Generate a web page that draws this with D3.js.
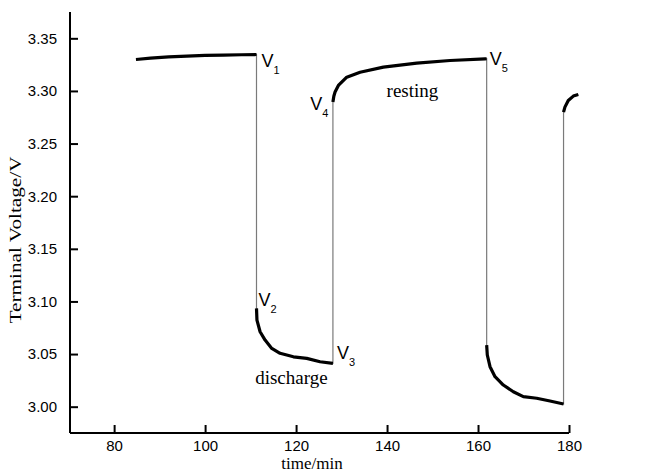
<!DOCTYPE html>
<html><head><meta charset="utf-8">
<script src="https://cdn.jsdelivr.net/npm/d3@7"></script>
<style>html,body{margin:0;padding:0;background:#fff;}svg{display:block;}</style>
</head><body>
<svg id="c" width="650" height="473"></svg>
<script>
// ---- data (time in min, terminal voltage in V) ----
const restTime1 = [84.8, 88, 92, 96, 100, 104, 108, 111.3];
const restVolt1 = [3.3299, 3.3312, 3.3323, 3.3331, 3.3337, 3.3341, 3.3344, 3.3346];
const disTime1 = [111.3, 111.4, 112.09, 113.19, 114.66, 116.48, 119.41, 122.35, 125.27, 128.1];
const disVolt1 = [3.0934, 3.0823, 3.0712, 3.0633, 3.0554, 3.0507, 3.0474, 3.0459, 3.0427, 3.0412];
const restTime2 = [128.1, 128.3, 128.57, 129.3, 131.14, 134.07, 139.19, 146.53, 153.85, 161.54, 161.9];
const restVolt2 = [3.2894, 3.2950, 3.2990, 3.3052, 3.3131, 3.3178, 3.3226, 3.3264, 3.3289, 3.3305, 3.3306];
const disTime2 = [161.9, 162.04, 162.64, 163.74, 165.56, 167.76, 169.96, 172.9, 175.82, 178.8];
const disVolt2 = [3.0585, 3.0491, 3.0380, 3.0285, 3.0206, 3.0142, 3.0095, 3.0080, 3.0054, 3.0026];
const restTime3 = [178.8, 179.1, 179.84, 180.95, 182.04];
const restVolt3 = [3.2799, 3.2846, 3.291, 3.2951, 3.2967];

const xTicks = [80, 100, 120, 140, 160, 180];
const yTicks = [3.00, 3.05, 3.10, 3.15, 3.20, 3.25, 3.30, 3.35];
const xTitle = "time/min";
const yTitle = "Terminal Voltage/V";

// point labels: [name, subscript, time, volt]
const pointLabels = [
  ["V", "1", 111.3, 3.3346],
  ["V", "2", 111.3, 3.0934],
  ["V", "3", 128.1, 3.0412],
  ["V", "4", 128.1, 3.2894],
  ["V", "5", 161.9, 3.3306]
];
const phaseLabels = [["discharge", 111.0, 3.0215], ["resting", 139.9, 3.294]];

// ---- drawing ----
const svg = d3.select("#c");
const x = d3.scaleLinear().domain([70.3, 180]).range([70, 569]);
const y = d3.scaleLinear().domain([2.975, 3.375]).range([433, 12]);

const zip = (t, v) => t.map((d, i) => [d, v[i]]);
const segments = [
  zip(restTime1, restVolt1), zip(disTime1, disVolt1), zip(restTime2, restVolt2),
  zip(disTime2, disVolt2), zip(restTime3, restVolt3)
];
const line = d3.line().x(d => x(d[0])).y(d => y(d[1]));

// thin connector through everything
svg.append("path").datum(segments.flat())
  .attr("d", line).attr("fill", "none").attr("stroke", "#7a7a7a").attr("stroke-width", 1.2);
// thick measured curves
svg.selectAll("path.seg").data(segments).join("path").attr("class", "seg")
  .attr("d", line).attr("fill", "none").attr("stroke", "#000").attr("stroke-width", 3.2)
  .attr("stroke-linejoin", "round").attr("stroke-linecap", "butt");

// axes
const gx = svg.append("g").attr("transform", "translate(0,433)")
  .call(d3.axisBottom(x).tickValues(xTicks).tickFormat(d3.format("d")).tickSize(-8).tickSizeOuter(0).tickPadding(7));
const gy = svg.append("g").attr("transform", "translate(70,0)")
  .call(d3.axisLeft(y).tickValues(yTicks).tickFormat(d3.format(".2f")).tickSize(-8).tickSizeOuter(0).tickPadding(13));
[gx, gy].forEach(g => {
  g.select(".domain").attr("stroke", "#000").attr("stroke-width", 2);
  g.selectAll(".tick line").attr("stroke", "#000").attr("stroke-width", 2);
  g.selectAll("text").attr("font-family", "Liberation Sans, Arial, sans-serif").attr("font-size", 15).attr("fill", "#000");
});
gx.select(".domain").attr("d", `M${x.range()[0]},0H${x.range()[1]}`);
gy.select(".domain").attr("d", `M0,${y.range()[0]}V${y.range()[1]}`);

// titles
svg.append("text").attr("x", 312).attr("y", 469).attr("text-anchor", "middle")
  .attr("font-family", "Liberation Serif, Times New Roman, serif").attr("font-size", 17).text(xTitle);
svg.append("text").attr("transform", "translate(21,240) rotate(-90) scale(1.25,1)").attr("text-anchor", "middle")
  .attr("font-family", "Liberation Serif, Times New Roman, serif").attr("font-size", 17).text(yTitle);

// point labels
const offs = [[5, 12], [2, -2], [4, -4], [-22.6, 8.3], [3, 6.7]];
pointLabels.forEach((p, i) => {
  const t = svg.append("text").attr("x", x(p[2]) + offs[i][0]).attr("y", y(p[3]) + offs[i][1])
    .attr("font-family", "Liberation Sans, Arial, sans-serif").attr("font-size", 18);
  t.append("tspan").text(p[0]);
  t.append("tspan").attr("dy", 7).attr("font-size", 11).text(p[1]);
});
phaseLabels.forEach(p => {
  svg.append("text").attr("x", x(p[1])).attr("y", y(p[2]))
    .attr("font-family", "Liberation Serif, Times New Roman, serif").attr("font-size", 19).text(p[0]);
});
</script>
</body></html>
